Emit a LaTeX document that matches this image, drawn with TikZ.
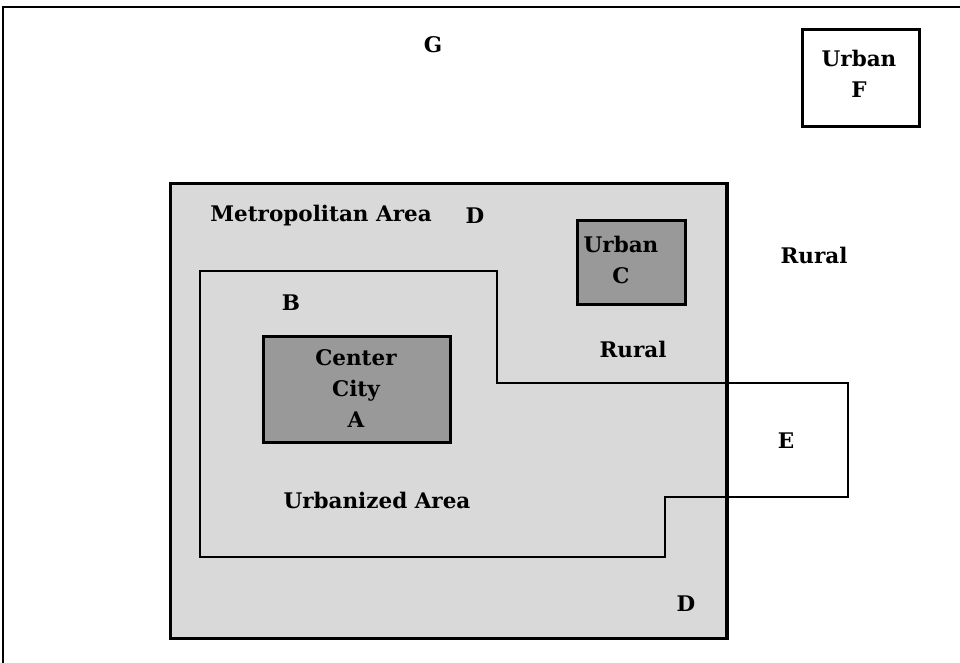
\documentclass[tikz,border=0pt]{standalone}
\usepackage{fontspec}
\setmainfont{DejaVu Serif}
\begin{document}
\begin{tikzpicture}[x=1pt,y=-1pt,
  lbl/.style={font=\fontsize{21.5}{31}\selectfont\bfseries, align=center, inner sep=0pt},
  edge/.style={line width=2.8pt, draw=black},
]
\definecolor{metrogray}{HTML}{D9D9D9}
\definecolor{darkgray}{HTML}{999999}
\useasboundingbox (0,0) rectangle (960,663);
\fill[white] (0,0) rectangle (960,663);
% outer frame (open at right and bottom)
\draw[line width=2.2pt] (3,700) -- (3,7) -- (1000,7);
% metropolitan area
\node[edge, fill=metrogray, minimum width=556, minimum height=455, anchor=north west, inner sep=0pt] (metro) at (169,182) {};
% urbanized area polygon
\coordinate (u1) at (200,271);
\coordinate (u2) at (497,271);
\coordinate (u3) at (497,383);
\coordinate (u4) at (848,383);
\coordinate (u5) at (848,497);
\coordinate (u6) at (665,497);
\coordinate (u7) at (665,557);
\coordinate (u8) at (200,557);
\draw[edge] (u1) -- (u2) -- (u3) -- (u4) -- (u5) -- (u6) -- (u7) -- (u8) -- cycle;
% metro right edge over polygon
\draw[edge] (metro.north east) -- (metro.south east);
% center city
\node[edge, fill=darkgray, minimum width=187, minimum height=106, anchor=north west, inner sep=0pt] (cc) at (262,335) {};
% urban C
\node[edge, fill=darkgray, minimum width=108, minimum height=84, anchor=north west, inner sep=0pt] (uc) at (576,219) {};
% urban F
\node[edge, fill=white, minimum width=117, minimum height=97, anchor=north west, inner sep=0pt] (uf) at (801,28) {};
% labels
\node[lbl] (G) at (433,45) {G};
\node[lbl] (tF) at (859,74) {Urban\\F};
\node[lbl] (tmetro) at (321,216) {Metropolitan Area};
\node[lbl] (D1) at (475,216) {D};
\node[lbl] (tC) at (621,260) {Urban\\C};
\node[lbl] (R1) at (814,255) {Rural};
\node[lbl] (B) at (291,303) {B};
\node[lbl] (R2) at (633,349) {Rural};
\node[lbl] (tA) at (356,389) {Center\\City\\A};
\node[lbl] (E) at (786,441) {E};
\node[lbl] (tU) at (377,500) {Urbanized Area};
\node[lbl] (D2) at (686,604) {D};
\end{tikzpicture}
\end{document}
